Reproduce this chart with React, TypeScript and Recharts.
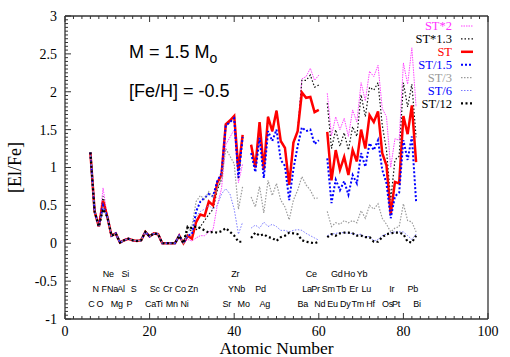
import React from "react";
import { ComposedChart, Line, Scatter, XAxis, YAxis } from "recharts";

const atomicNumbers = [6,7,8,9,10,11,12,13,14,15,16,17,18,19,20,21,22,23,24,25,26,27,28,29,30,31,32,33,34,35,36,37,38,39,40,41,42,43,44,45,46,47,48,49,50,51,52,53,54,55,56,57,58,59,60,61,62,63,64,65,66,67,68,69,70,71,72,73,74,75,76,77,78,79,80,81,82,83];

const st2 = [1.2,0.42,0.22,0.73,0.36,0.1,0.13,0.01,0.05,0.07,0.04,0.03,0.04,0.15,0.09,0.13,0.12,0.0,0.0,0.0,0.0,0.09,0.0,
  0.05,0.03,0.07,0.1,0.1,0.15,0.18,0.5,0.72,1.3,1.4,1.5,0.8,1.05,
  null,
  1.29,1.0,1.58,1.0,1.66,1.47,1.74,1.34,1.24,0.78,1.31,1.47,2.17,2.2,2.31,2.15,2.22,
  null,
  1.98,1.42,1.67,1.5,1.65,1.41,1.76,1.6,2.12,1.88,2.27,2.2,2.35,1.78,1.67,1.0,1.38,1.36,2.38,2.1,2.58,1.8];

const st13 = [1.2,0.42,0.22,0.62,0.35,0.1,0.13,0.01,0.04,0.06,0.04,0.03,0.04,0.15,0.09,0.13,0.12,0.0,0.0,0.0,0.0,0.1,0.0,
  0.22,0.15,0.18,0.22,0.3,0.38,0.45,0.7,0.85,1.55,1.6,1.65,0.85,1.4,
  null,
  1.3,1.0,1.6,0.98,1.67,1.48,1.75,1.35,1.26,0.77,1.33,1.48,2.15,2.15,2.22,2.06,2.09,
  null,
  1.85,1.25,1.5,1.28,1.46,1.23,1.54,1.41,1.96,1.67,2.06,2.02,2.12,1.56,1.23,0.57,1.1,1.15,2.12,1.8,2.1,1.4];

const st = [1.2,0.42,0.22,0.56,0.35,0.1,0.13,0.01,0.04,0.06,0.04,0.03,0.04,0.15,0.09,0.13,0.12,0.0,0.0,0.0,0.0,0.1,0.0,
  0.1,0.06,0.28,0.38,0.36,0.55,0.5,0.8,0.9,1.57,1.62,1.68,0.97,1.43,
  null,
  1.3,1.0,1.6,0.97,1.67,1.48,1.75,1.35,1.26,0.77,1.33,1.48,1.99,1.92,1.93,1.73,1.76,
  null,
  1.47,0.83,1.23,0.97,1.14,0.9,1.23,1.08,1.5,1.25,1.69,1.6,1.74,1.19,1.03,0.38,0.81,0.79,1.68,1.44,1.82,1.07];

const st15 = [1.2,0.42,0.22,0.5,0.35,0.1,0.13,0.01,0.04,0.06,0.04,0.03,0.04,0.15,0.09,0.13,0.12,0.0,0.0,0.0,0.0,0.1,0.0,
  0.1,0.12,0.42,0.55,0.6,0.65,0.62,0.82,0.92,1.55,1.6,1.65,0.87,1.4,
  null,
  1.19,0.94,1.39,0.86,1.48,1.35,1.5,1.1,1.02,0.57,0.98,1.28,1.53,1.48,1.5,1.31,1.36,
  null,
  1.12,0.53,0.84,0.7,0.82,0.64,0.9,0.79,1.19,1.01,1.32,1.23,1.36,0.97,0.79,0.33,0.62,0.67,1.36,1.1,1.41,0.55];

const st3 = [1.2,0.42,0.22,0.47,0.35,0.1,0.13,0.01,0.04,0.06,0.04,0.03,0.04,0.15,0.09,0.13,0.12,0.0,0.0,0.0,0.0,0.1,0.0,
  0.15,0.22,0.55,0.63,0.58,0.68,0.6,0.72,0.85,1.25,1.15,1.05,0.45,0.75,
  null,
  0.61,0.48,0.75,0.4,0.83,0.63,0.79,0.57,0.48,0.31,0.57,0.7,0.88,0.77,0.7,0.59,0.6,
  null,
  0.42,0.22,0.27,0.25,0.3,0.27,0.3,0.27,0.43,0.33,0.5,0.45,0.52,0.33,0.25,0.15,0.2,0.22,0.52,0.3,0.28,0.15];

const st6 = [1.2,0.42,0.22,0.46,0.35,0.1,0.13,0.01,0.04,0.06,0.04,0.03,0.04,0.15,0.09,0.13,0.12,0.0,0.0,0.0,0.0,0.1,0.0,
  0.1,0.15,0.35,0.42,0.45,0.5,0.45,0.5,0.65,0.72,0.65,0.45,0.12,0.28,
  null,
  0.2,0.24,0.2,0.28,0.22,0.25,0.22,0.17,0.17,0.15,0.17,0.18,0.17,0.13,0.1,0.07,0.04,
  null,
  0.1,0.12,0.13,0.14,0.14,0.13,0.13,0.11,0.12,0.08,0.09,0.03,0.05,0.1,0.12,0.14,0.15,0.15,0.15,0.1,0.05,0.12];

const st12 = [1.2,0.42,0.22,0.45,0.35,0.1,0.13,0.01,0.04,0.06,0.04,0.03,0.04,0.15,0.09,0.13,0.12,0.0,0.0,0.0,0.0,0.1,0.0,
  0.22,0.2,0.22,0.2,0.17,0.14,0.15,0.14,0.16,0.2,0.15,0.1,0.02,0.02,
  null,
  0.07,0.14,0.1,0.12,0.08,0.07,0.03,0.08,0.1,0.14,0.13,0.12,0.04,0.02,0.01,0.0,0.02,
  null,
  0.08,0.12,0.1,0.13,0.14,0.14,0.13,0.1,0.1,0.08,0.08,0.02,0.02,0.08,0.12,0.13,0.14,0.14,0.12,0.02,0.01,0.1];

// element labels: symbol, atomic number, row level
const elementSymbols = ["C","O","Mg","P","Ca","Ti","Mn","Ni","Sr","Mo","Ag","Ba","Nd","Eu","Dy","Tm","Hf","Os","Pt","Bi",
  "N","F","Na","Al","S","Sc","Cr","Co","Zn","Y","Nb","Pd","La","Pr","Sm","Tb","Er","Lu","Ir","Pb",
  "Ne","Si","Zr","Ce","Gd","Ho","Yb"];
const elementZ = [6,8,12,15,20,22,25,28,38,42,47,56,60,63,66,69,72,76,78,83,
  7,9,11,13,16,21,24,27,30,39,41,46,57,59,62,65,68,71,77,82,
  10,14,40,58,64,67,70];
const elementRowY = [-0.8,-0.8,-0.8,-0.8,-0.8,-0.8,-0.8,-0.8,-0.8,-0.8,-0.8,-0.8,-0.8,-0.8,-0.8,-0.8,-0.8,-0.8,-0.8,-0.8,
  -0.6,-0.6,-0.6,-0.6,-0.6,-0.6,-0.6,-0.6,-0.6,-0.6,-0.6,-0.6,-0.6,-0.6,-0.6,-0.6,-0.6,-0.6,-0.6,-0.6,
  -0.4,-0.4,-0.4,-0.4,-0.4,-0.4,-0.4];

const xMajorTicks = [0, 20, 40, 60, 80, 100];
const yMajorTicks = [-1, -0.5, 0, 0.5, 1, 1.5, 2, 2.5, 3];
const xMinorStep = 2;
const yMinorStep = 0.05;

const xTicks: number[] = [];
for (let i = 0; i <= 100 / xMinorStep; i++) xTicks.push(i * xMinorStep);
const yTicks: number[] = [];
for (let i = 0; i <= Math.round(4 / yMinorStep); i++) yTicks.push(Math.round((-1 + i * yMinorStep) * 100) / 100);

const rows = atomicNumbers.map((z, i) => ({
  z, st2: st2[i], st13: st13[i], st: st[i], st15: st15[i], st3: st3[i], st6: st6[i], st12: st12[i],
}));
const labelData = elementSymbols.map((s, i) => ({ z: elementZ[i], y: elementRowY[i], symbol: s }));

const seriesStyle = [
  { key: "st2", name: "ST*2", color: "#ff44ff", text: "#ff33ff", width: 1, dash: "1.5 1" },
  { key: "st13", name: "ST*1.3", color: "#111111", text: "#000000", width: 1.2, dash: "1.5 2" },
  { key: "st", name: "ST", color: "#ff0000", text: "#ff0000", width: 2.5, dash: undefined },
  { key: "st15", name: "ST/1.5", color: "#0000ff", text: "#0000ff", width: 2, dash: "2 2" },
  { key: "st3", name: "ST/3", color: "#9a9a9a", text: "#9a9a9a", width: 1.2, dash: "1.5 1.5" },
  { key: "st6", name: "ST/6", color: "#7a7aff", text: "#0000ff", width: 1, dash: "1.5 1.5" },
  { key: "st12", name: "ST/12", color: "#000000", text: "#000000", width: 2.2, dash: "2 2.5" },
];

const serif = "'Liberation Serif', 'DejaVu Serif', serif";
const sans = "'Liberation Sans', Arial, sans-serif";
const frame = "#333333";

const isMajorX = (v: number) => xMajorTicks.indexOf(v) >= 0;
const isMajorY = (v: number) => yMajorTicks.some((m) => Math.abs(m - v) < 1e-6);

const BottomTick = (p: any) => {
  const v = p.payload.value;
  const maj = isMajorX(v);
  return (
    <g>
      <line x1={p.x} x2={p.x} y1={p.y} y2={p.y - (maj ? 6 : 3)} stroke={frame} strokeWidth={1} />
      {maj && (
        <text x={p.x} y={p.y + 17} textAnchor="middle" fontFamily={serif} fontSize={14} fill="#000">{v}</text>
      )}
    </g>
  );
};
const TopTick = (p: any) => {
  const maj = isMajorX(p.payload.value);
  return <line x1={p.x} x2={p.x} y1={p.y} y2={p.y + (maj ? 6 : 3)} stroke={frame} strokeWidth={1} />;
};
const LeftTick = (p: any) => {
  const v = p.payload.value;
  const maj = isMajorY(v);
  return (
    <g>
      <line x1={p.x} x2={p.x + (maj ? 6 : 3)} y1={p.y} y2={p.y} stroke={frame} strokeWidth={1} />
      {maj && (
        <text x={p.x - 8} y={p.y} dy="0.35em" textAnchor="end" fontFamily={serif} fontSize={14} fill="#000">{v}</text>
      )}
    </g>
  );
};
const RightTick = (p: any) => {
  const maj = isMajorY(p.payload.value);
  return <line x1={p.x} x2={p.x - (maj ? 6 : 3)} y1={p.y} y2={p.y} stroke={frame} strokeWidth={1} />;
};

const ElementLabel = (p: any) => (
  <text x={p.cx + 1} y={p.cy} dy="0.35em" textAnchor="middle" fontFamily={sans} fontSize={9} letterSpacing={-0.2} fill="#000">
    {p.payload.symbol}
  </text>
);

export default function App() {
  const legendX = 452;
  const legendY0 = 26;
  const legendDy = 12.9;
  return (
    <div style={{ position: "absolute", left: 0, top: 0, width: 510, height: 357, background: "#fff" }}>
      <ComposedChart width={510} height={357} data={rows} margin={{ top: 0, right: 0, bottom: 0, left: 0 }}>
        <XAxis dataKey="z" type="number" domain={[0, 100]} ticks={xTicks} interval={0} height={38}
          tickSize={0} tickMargin={0} tick={<BottomTick />} axisLine={{ stroke: frame, strokeWidth: 1.3 }} tickLine={false} />
        <XAxis xAxisId="top" orientation="top" dataKey="z" type="number" domain={[0, 100]} ticks={xTicks} interval={0}
          height={16} tickSize={0} tickMargin={0} tick={<TopTick />} axisLine={{ stroke: frame, strokeWidth: 1.3 }} tickLine={false} />
        <YAxis type="number" domain={[-1, 3]} ticks={yTicks} interval={0} width={65} allowDataOverflow
          tickSize={0} tickMargin={0} tick={<LeftTick />} axisLine={{ stroke: frame, strokeWidth: 1.3 }} tickLine={false} />
        <YAxis yAxisId="right" orientation="right" type="number" domain={[-1, 3]} ticks={yTicks} interval={0} width={22}
          tickSize={0} tickMargin={0} tick={<RightTick />} axisLine={{ stroke: frame, strokeWidth: 1.3 }} tickLine={false} />
        {seriesStyle.map((s) => (
          <Line key={s.key} dataKey={s.key} name={s.name} type="linear" stroke={s.color} strokeWidth={s.width}
            strokeDasharray={s.dash} dot={false} activeDot={false} connectNulls={false} isAnimationActive={false} />
        ))}
        <Scatter data={labelData} dataKey="y" shape={<ElementLabel />} isAnimationActive={false} />
      </ComposedChart>
      <svg width={510} height={357} style={{ position: "absolute", left: 0, top: 0, pointerEvents: "none" }}>
        <text x={129} y={58} fontFamily={sans} fontSize={18} fill="#000">
          M = 1.5 M<tspan dy={5} fontSize={14}>o</tspan>
        </text>
        <text x={129} y={97} fontFamily={sans} fontSize={18} fill="#000">[Fe/H] = -0.5</text>
        <text x={276.5} y={354} textAnchor="middle" fontFamily={serif} fontSize={17.5} fill="#000">Atomic Number</text>
        <text transform="translate(15,167.5) rotate(-90)" textAnchor="middle" dy="0.35em" fontFamily={serif} fontSize={18} fill="#000">[El/Fe]</text>
        {seriesStyle.map((s, i) => (
          <g key={s.key}>
            <text x={legendX} y={legendY0 + i * legendDy} dy="0.35em" textAnchor="end" fontFamily={serif} fontSize={12.5} fill={s.text}>{s.name}</text>
            <line x1={461} x2={473} y1={legendY0 + i * legendDy} y2={legendY0 + i * legendDy} stroke={s.color}
              strokeWidth={s.width} strokeDasharray={s.dash} />
          </g>
        ))}
      </svg>
    </div>
  );
}
